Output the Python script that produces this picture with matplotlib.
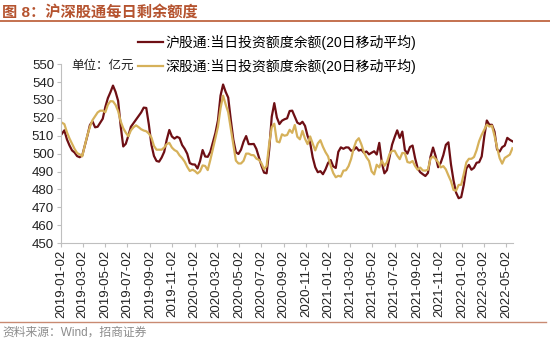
import matplotlib
matplotlib.use('Agg')
import matplotlib.pyplot as plt
import matplotlib.dates as mdates
from matplotlib.lines import Line2D
import pandas as pd

plt.rcParams['font.family'] = ['Liberation Sans', 'Noto Sans CJK SC']

# weekly samples of the 20-day moving average, 100mn yuan
sh_quota = [
    511, 513, 508, 504.6, 501.8, 500.6, 498.6, 498, 499, 504.5, 510, 516,
    518, 514.7, 515, 517.2, 519.5, 526, 531, 534.3, 538, 534.5, 529.5, 515.5,
    504, 505.5, 510, 515, 517, 519, 521, 523, 525.7, 525.5, 516.3, 505,
    498.7, 495.9, 495.5, 497.8, 501, 507.8, 513.2, 509.6, 508.4, 509.4, 508.7, 504.8,
    502.7, 499.9, 494.7, 494, 493.9, 491.7, 495.8, 502, 498.4, 498.2, 500.9, 506.3,
    511.5, 518.6, 532.4, 538.6, 534.5, 531.3, 519, 507.8, 500.8, 499.8, 502.2, 506.7,
    509.8, 505.3, 505.3, 505.4, 502.6, 497.8, 493.2, 489.4, 489, 502, 520.6, 528.2,
    520.2, 516.5, 518.4, 519.2, 519.7, 523.8, 524, 520.7, 517.3, 516.5, 517.8, 515.5,
    509.9, 506.1, 497.9, 492.4, 489.6, 490.2, 488.5, 491.2, 494.8, 496.4, 492.9, 492,
    501, 503.5, 502.7, 503.5, 503.4, 501.6, 502, 503.6, 501.7, 502.2, 500.5, 501.2,
    499.6, 500.5, 501.3, 499.5, 506, 495, 489, 490.8, 497.9, 505, 509.2, 513,
    508.8, 512.3, 502, 500, 503.7, 504.5, 497.4, 491.8, 489.6, 488.5, 487.5, 489.2,
    498.2, 503.4, 498.6, 492.4, 494.9, 499.1, 504.9, 506.3, 494, 485, 478.2, 475.1,
    475.7, 482.5, 491.7, 493.7, 491, 492.1, 494.9, 495.2, 498.4, 509.5, 518.5, 516.1,
    516.1, 512.3, 502.3, 501.1, 503.6, 504.5, 508.8, 507.7, 506.9,
]
sz_quota = [
    517.3, 516.5, 512, 508.5, 505.5, 502.6, 500.3, 499.6, 498.5, 504.6, 510.3, 515,
    518.7, 520.9, 523, 524, 524, 523.1, 527.3, 529.3, 529.2, 527.2, 523.8, 518,
    514.2, 511.7, 509.7, 513, 514.7, 515.8, 514.8, 513.6, 512.9, 512.5, 511.2, 509,
    504.3, 502.2, 502.2, 502.2, 503.4, 505.3, 506, 503.4, 502, 501.2, 499, 497.5,
    495.5, 492.6, 490.3, 491, 490.3, 488.9, 490.1, 493.4, 493.1, 490.8, 496.4, 502.5,
    508.7, 515, 525.3, 532.4, 527.5, 523.1, 514.1, 504.9, 496.1, 494.5, 494.5, 496,
    500, 500, 499.2, 499.1, 497.2, 496.5, 494.6, 491.3, 493, 505.3, 514.8, 516.7,
    506.8, 506.3, 510.8, 510, 510.4, 513.3, 511.6, 516, 509.4, 508, 512.7, 508.3,
    505.3, 509.6, 505.6, 501.8, 505.7, 507.5, 503.8, 500.8, 498.5, 493.3, 489.2, 486.8,
    487.6, 487.2, 490.5, 490.7, 493, 497, 503, 507, 508.6, 505.2, 500.7, 497.9,
    495.9, 490.1, 488.4, 493.8, 492.3, 496.1, 493.2, 495.2, 499.8, 501.5, 501.6, 498.9,
    496.9, 500.4, 500.2, 495.3, 494.9, 495.9, 493, 491, 492.2, 490.6, 490.5, 491,
    497.2, 498.4, 497, 495.2, 492.3, 493, 491.2, 487.8, 484.6, 479.7, 479.3, 482.5,
    482.6, 488.6, 495.1, 497.1, 497.1, 498.1, 501.9, 507, 510.5, 513.3, 516.2, 515.1,
    515.6, 510, 503.5, 497.5, 494.4, 497.6, 498.5, 499.5, 503,
]
dates = pd.date_range('2019-01-04', periods=len(sh_quota), freq='7D')
# ticks every two months on the 2nd
tick_dates = pd.date_range('2019-01-01', '2022-05-01', freq='2MS') + pd.Timedelta(days=1)

sh_label = '沪股通:当日投资额度余额(20日移动平均)'
sz_label = '深股通:当日投资额度余额(20日移动平均)'
red = '#6E0F14'
gold = '#D6B15A'

fig = plt.figure(figsize=(5.5, 3.41), dpi=100)
ax = fig.add_axes([0.111, 0.287, 0.822, 0.525])

ax.plot(dates, sh_quota, color=red, lw=1.6)
ax.plot(dates, sz_quota, color=gold, lw=1.6)

ax.set_ylim(450, 550)
ax.set_yticks(range(450, 551, 10))
ax.set_xlim(pd.Timestamp('2019-01-02'), pd.Timestamp('2022-05-22'))
ax.set_xticks(tick_dates)
ax.xaxis.set_major_formatter(mdates.DateFormatter('%Y-%m-%d'))
plt.setp(ax.get_xticklabels(), rotation=90)

for side in ['top', 'right']:
    ax.spines[side].set_visible(False)
for side in ['left', 'bottom']:
    ax.spines[side].set_color('#BFBFBF')
ax.tick_params(axis='both', colors='#BFBFBF', labelcolor='#222222',
               labelsize=9.5, length=3, pad=2)

handles = [Line2D([], [], color=red, lw=1.6), Line2D([], [], color=gold, lw=1.6)]
fig.legend(handles, [sh_label, sz_label], loc='upper left',
           bbox_to_anchor=(0.25, 0.897), frameon=False, fontsize=10,
           handlelength=1.8, handletextpad=0.2, labelspacing=0.6,
           borderpad=0, borderaxespad=0)
fig.text(0.129, 0.808, '单位：亿元', fontsize=9, color='#222222', va='center')

fig.text(0.004, 0.965, '图 8：沪深股通每日剩余额度', fontsize=11, fontweight='bold',
         color='#B5532F', va='center')
fig.add_artist(Line2D([0, 1], [0.937, 0.937], color='#C4714F', lw=1.4))
fig.add_artist(Line2D([0, 0.993], [0.056, 0.056], color='#C98A72', lw=1.0))
fig.text(0.004, 0.024, '资料来源：Wind，招商证券', fontsize=8.5, color='#8C8C8C',
         va='center')

fig.savefig('out.png', dpi=100)
